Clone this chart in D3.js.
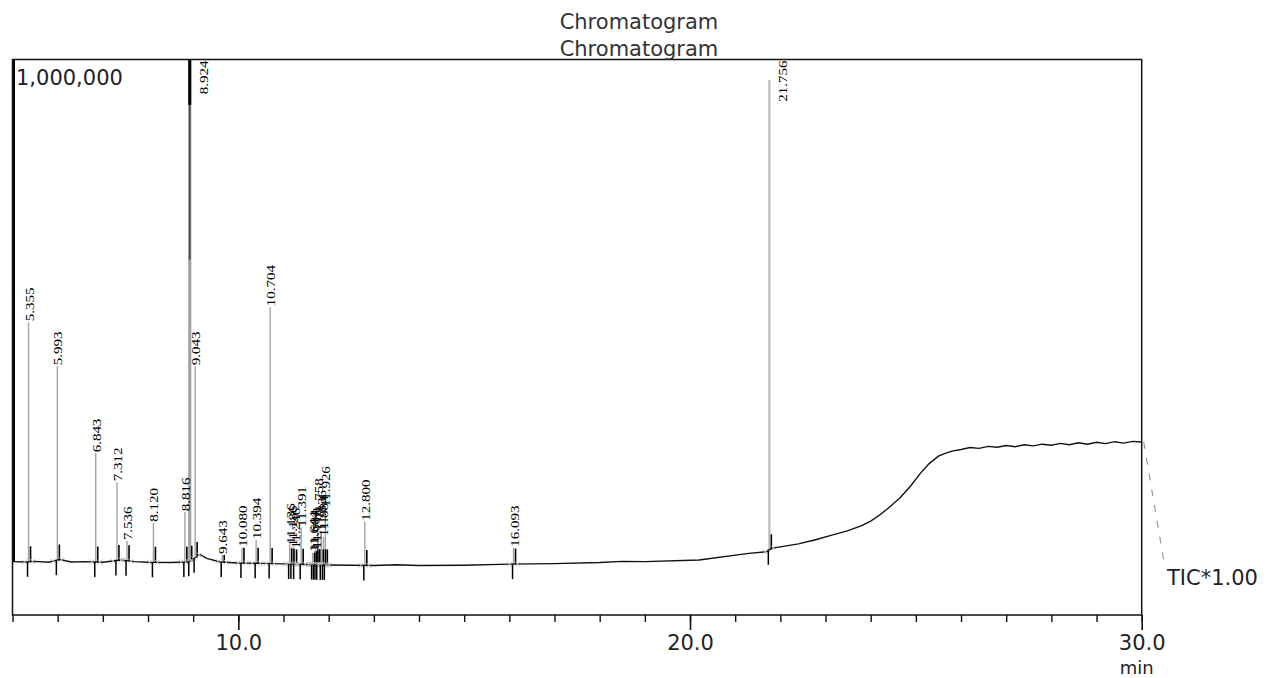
<!DOCTYPE html>
<html>
<head>
<meta charset="utf-8">
<script src="https://cdn.jsdelivr.net/npm/d3@7"></script>
<style>
  body { margin: 0; background: #fff; }
  #sandbox { width: 1268px; height: 678px; }
  text { font-family: "DejaVu Sans", Verdana, sans-serif; }
</style>
</head>
<body>
<div id="sandbox"></div>
<script>
// Chart size
const width = 1268;
const height = 678;

// Baseline of the TIC trace (min, counts)
const traceTimes = [5.0, 5.3, 5.5, 5.8, 6.05, 6.3, 6.6, 7.0, 7.4, 7.7, 8.0, 8.5, 8.9, 9.15, 9.3, 9.6,
    10.0, 10.5, 11.0, 11.5, 12.0, 12.5, 13.0, 13.5, 14.0, 15.0, 16.0, 17.0, 18.0, 18.5, 19.0, 20.2,
    21.3, 21.7, 21.8, 22.4, 22.8, 23.1, 23.5, 23.8, 24.0, 24.2, 24.4, 24.65, 24.87, 25.1, 25.3, 25.5,
    25.65, 25.8, 26.0, 26.2, 26.4, 26.6, 26.8, 27.0, 27.2, 27.4, 27.6, 27.8, 28.0, 28.2, 28.4, 28.6,
    28.8, 29.0, 29.2, 29.4, 29.6, 29.8, 30.0];
const traceCounts = [96000, 95500, 96500, 95000, 100000, 95500, 96000, 95000, 99000, 96000, 95000, 94500, 95500, 109000, 102000, 95500,
    93600, 93000, 92000, 91000, 90000, 89500, 89000, 90500, 89000, 89500, 91500, 92500, 94500, 96500, 96000, 99000,
    111000, 114000, 120000, 128000, 136000, 143000, 152000, 161000, 169000, 180000, 193000, 211000, 231000, 255000, 273000, 286000,
    291000, 295000, 298000, 301500, 300000, 303500, 302000, 305000, 303000, 306500, 304500, 307500, 305500, 309000, 306500, 310000,
    307500, 311000, 308500, 312000, 309500, 312500, 311500];

// Labelled peaks: retention time, label, apex (counts)
const peakTimes = [5.355, 5.993, 6.843, 7.312, 7.536, 8.120, 8.816, 8.924, 9.043, 9.643, 10.080, 10.394, 10.704,
    11.136, 11.186, 11.246, 11.391, 11.644, 11.684, 11.718, 11.758, 11.836, 11.884, 11.926, 12.800, 16.093, 21.756];
const peakLabels = ["5.355", "5.993", "6.843", "7.312", "7.536", "8.120", "8.816", "8.924", "9.043", "9.643", "10.080", "10.394", "10.704",
    "11.136", "11.186", "11.246", "11.391", "11.644", "11.684", "11.718", "11.758", "11.836", "11.884", "11.926", "12.800", "16.093", "21.756"];
const peakApex = [527000, 448000, 291000, 239000, 133000, 166000, 185000, 1500000, 448000, 108000, 121000, 135000, 554000,
    126000, 122000, 118000, 157000, 112000, 115000, 118000, 171000, 150000, 140000, 193000, 168000, 121000, 963000];

// Axis ticks
const majorTicks = [10, 20, 30];
const minorTicks = d3.range(5, 31, 1);
const titleLines = ["Chromatogram", "Chromatogram"];

const frame = { left: 12.5, right: 1141.7, top: 59.5, bottom: 615 };

const svg = d3.select("#sandbox")
    .append("svg")
    .attr("width", width)
    .attr("height", height);

// Scales
const x = d3.scaleLinear().domain([5, 30]).range([frame.left, frame.right]);
const y = d3.scaleLinear().domain([0, 1000000]).range([frame.bottom, frame.top]);
// baseline value at any time (piecewise linear through the trace points)
const base = d3.scaleLinear().domain(traceTimes).range(traceCounts).clamp(true);

const peaks = peakTimes.map((t, i) => ({ t, label: peakLabels[i], apex: peakApex[i] }));
const trace = traceTimes.map((t, i) => ({ t, v: traceCounts[i] }));

svg.append("clipPath").attr("id", "plot")
    .append("rect")
    .attr("x", frame.left).attr("y", frame.top)
    .attr("width", frame.right - frame.left).attr("height", frame.bottom - frame.top);

const plot = svg.append("g").attr("clip-path", "url(#plot)");

// grey peak lines
plot.selectAll("line.peak")
    .data(peaks)
    .enter()
    .append("line")
    .attr("x1", d => x(d.t)).attr("x2", d => x(d.t))
    .attr("y1", d => y(base(d.t))).attr("y2", d => y(d.apex))
    .attr("stroke", d => d.t > 20 ? "#bdbdbd" : "#a3a3a3")
    .attr("stroke-width", d => d.apex > 1000000 ? 3.2 : (d.t > 20 ? 2.2 : 1.4));

// saturated top of the big peak
const big = peaks.filter(d => d.apex > 1000000);
plot.selectAll("line.sat")
    .data(big)
    .enter()
    .append("line")
    .attr("x1", d => x(d.t)).attr("x2", d => x(d.t))
    .attr("y1", y(1000000)).attr("y2", y(640000))
    .attr("stroke", "#444").attr("stroke-width", 1.6);
plot.selectAll("line.sat2")
    .data(big)
    .enter()
    .append("line")
    .attr("x1", d => x(d.t)).attr("x2", d => x(d.t))
    .attr("y1", y(1000000)).attr("y2", y(918000))
    .attr("stroke", "#000").attr("stroke-width", 3);

// solvent front along the left edge
plot.append("line")
    .attr("x1", x(5) + 1).attr("x2", x(5) + 1)
    .attr("y1", y(1000000)).attr("y2", y(base(5)))
    .attr("stroke", "#000").attr("stroke-width", 3);

// baseline trace
const line = d3.line()
    .x(d => x(d.t))
    .y(d => y(d.v));

plot.append("path")
    .datum(trace)
    .attr("fill", "none")
    .attr("stroke", "#111")
    .attr("stroke-width", 1.4)
    .attr("d", line);

// dark bottom part of each peak
plot.selectAll("line.stub")
    .data(peaks)
    .enter()
    .append("line")
    .attr("x1", d => x(d.t) + 2).attr("x2", d => x(d.t) + 2)
    .attr("y1", d => y(base(d.t)))
    .attr("y2", d => y(Math.min(d.apex, base(d.t) + 28000)))
    .attr("stroke", "#000").attr("stroke-width", 1.6);

// peak start / end marks (small grey crosses on the baseline)
const ends = peaks.flatMap(d => [d.t - 0.09, d.t + 0.09]);
svg.selectAll("path.cross")
    .data(ends)
    .enter()
    .append("path")
    .attr("d", t => {
        const cx = x(t), cy = y(base(t));
        return `M${cx - 2.5},${cy - 2.5}L${cx + 2.5},${cy + 2.5}M${cx - 2.5},${cy + 2.5}L${cx + 2.5},${cy - 2.5}`;
    })
    .attr("stroke", "#bbb")
    .attr("stroke-width", 0.9)
    .attr("fill", "none");

// peak markers below baseline
svg.selectAll("line.mark")
    .data(peaks)
    .enter()
    .append("line")
    .attr("x1", d => x(d.t) - 1).attr("x2", d => x(d.t) - 1)
    .attr("y1", d => y(base(d.t)))
    .attr("y2", d => y(base(d.t)) + 15)
    .attr("stroke", "#000").attr("stroke-width", 1.5);

// peak labels, rotated
const atTop = d => y(Math.min(d.apex, 1000000)) - 40 < frame.top;
svg.selectAll("text.plabel")
    .data(peaks)
    .enter()
    .append("text")
    .attr("transform", d => {
        const top = y(Math.min(d.apex, 1000000));
        if (atTop(d)) {
            return `translate(${x(d.t) + 18},${frame.top + 1}) rotate(-90) scale(1,0.85)`;
        }
        return `translate(${x(d.t) + 5},${top - 1}) rotate(-90) scale(1,0.85)`;
    })
    .attr("text-anchor", d => atTop(d) ? "end" : "start")
    .style("font-family", "'Liberation Serif', 'Times New Roman', serif")
    .style("font-size", "15px")
    .attr("fill", "#000")
    .text(d => d.label);

// frame
svg.append("rect")
    .attr("x", frame.left).attr("y", frame.top)
    .attr("width", frame.right - frame.left).attr("height", frame.bottom - frame.top)
    .attr("fill", "none")
    .attr("stroke", "#111")
    .attr("stroke-width", 1.5);

// x axis: minor and major ticks
const minorAxis = svg.append("g")
    .attr("transform", `translate(0,${frame.bottom})`)
    .call(d3.axisBottom(x).tickValues(minorTicks).tickSize(7).tickFormat(""));
minorAxis.select(".domain").remove();
minorAxis.selectAll("line").attr("stroke", "#111").attr("stroke-width", 1.4);

const majorAxis = svg.append("g")
    .attr("transform", `translate(0,${frame.bottom})`)
    .call(d3.axisBottom(x).tickValues(majorTicks).tickSize(15).tickFormat(d3.format(".1f")));
majorAxis.select(".domain").remove();
majorAxis.selectAll("line").attr("stroke", "#111").attr("stroke-width", 1.6);
majorAxis.selectAll("text")
    .attr("y", 35).attr("dy", 0)
    .attr("fill", "#222")
    .style("font-family", "'DejaVu Sans', Verdana, sans-serif")
    .style("font-size", "21px");

svg.append("text")
    .attr("x", x(30) - 5).attr("y", 673.5)
    .attr("text-anchor", "middle")
    .attr("fill", "#222")
    .style("font-size", "18px")
    .text("min");

// title
svg.selectAll("text.title")
    .data(titleLines)
    .enter()
    .append("text")
    .attr("x", 639)
    .attr("y", (d, i) => 29 + i * 27)
    .attr("text-anchor", "middle")
    .attr("fill", "#333")
    .style("font-size", "21px")
    .text(d => d);

// full scale value
svg.append("text")
    .attr("x", 16).attr("y", 85)
    .attr("fill", "#222")
    .style("font-size", "21px")
    .text(d3.format(",")(y.domain()[1]));

// TIC label with dashed leader from the end of the trace
const last = trace[trace.length - 1];
svg.append("line")
    .attr("x1", x(last.t) + 2).attr("y1", y(last.v))
    .attr("x2", 1165).attr("y2", 568)
    .attr("stroke", "#999")
    .attr("stroke-width", 1.2)
    .attr("stroke-dasharray", "7,9");

svg.append("text")
    .attr("x", 1167).attr("y", 585)
    .attr("fill", "#222")
    .style("font-size", "21px")
    .text("TIC*1.00");
</script>
</body>
</html>
